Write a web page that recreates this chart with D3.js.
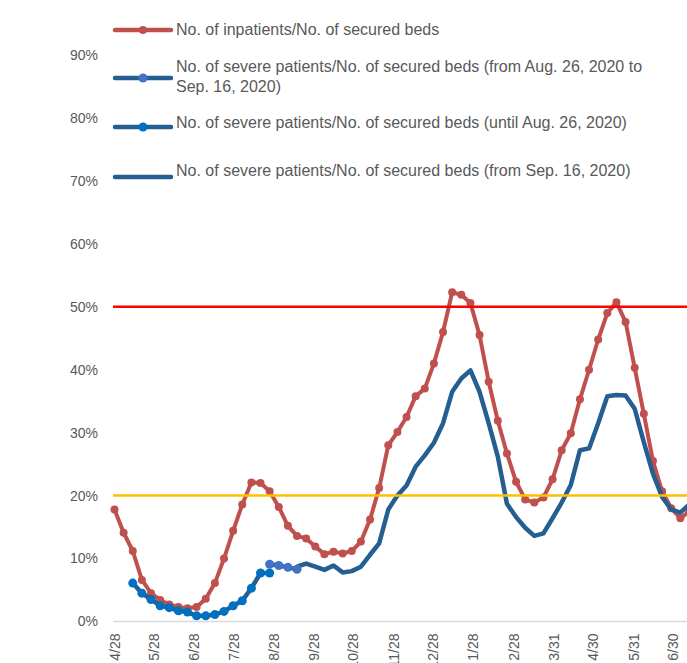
<!DOCTYPE html>
<html>
<head>
<meta charset="utf-8">
<script src="https://cdn.jsdelivr.net/npm/d3@7"></script>
<style>
  body { margin: 0; background: #fff; }
  svg { display: block; font-family: "Liberation Sans", Arial, sans-serif; }
</style>
</head>
<body>
<div id="chart"></div>
<script>
// Weekly dates (category of every point)
const dates = [
  "2020-04-28","2020-05-05","2020-05-12","2020-05-19","2020-05-26","2020-06-02","2020-06-09","2020-06-16",
  "2020-06-23","2020-06-30","2020-07-07","2020-07-14","2020-07-21","2020-07-28","2020-08-04","2020-08-11",
  "2020-08-18","2020-08-25","2020-09-01","2020-09-08","2020-09-15","2020-09-22","2020-09-29","2020-10-06",
  "2020-10-13","2020-10-20","2020-10-27","2020-11-03","2020-11-10","2020-11-17","2020-11-24","2020-12-01",
  "2020-12-08","2020-12-15","2020-12-22","2020-12-29","2021-01-05","2021-01-12","2021-01-19","2021-01-26",
  "2021-02-02","2021-02-09","2021-02-16","2021-02-23","2021-03-02","2021-03-09","2021-03-16","2021-03-23",
  "2021-03-30","2021-04-06","2021-04-13","2021-04-20","2021-04-27","2021-05-04","2021-05-11","2021-05-18",
  "2021-05-25","2021-06-01","2021-06-08","2021-06-15","2021-06-22","2021-06-29","2021-07-06","2021-07-13"
];

// No. of inpatients / No. of secured beds (%)
const inpatients = [
  17.8, 14.1, 11.2, 6.6, 4.5, 3.4, 2.7, 2.3, 2.1, 2.3, 3.6, 6.1, 10.0, 14.4, 18.6, 22.1,
  22.0, 20.7, 18.2, 15.2, 13.6, 13.2, 11.9, 10.7, 11.1, 10.8, 11.2, 12.7, 16.2, 21.2, 28.0, 30.1,
  32.5, 35.8, 37.0, 41.0, 46.0, 52.3, 51.9, 50.6, 45.5, 38.1, 31.9, 26.7, 22.2, 19.4, 18.9, 19.7,
  22.6, 27.2, 29.9, 35.3, 40.0, 44.8, 49.0, 50.7, 47.6, 40.3, 33.0, 25.5, 20.7, 18.0, 16.4, 17.5
];

// Severe patients / secured beds, until Aug. 26, 2020 (starts at index 2)
const severeEarlyStart = 2;
const severeEarly = [6.1, 4.5, 3.5, 2.5, 2.2, 1.7, 1.5, 0.9, 0.9, 1.1, 1.6, 2.5, 3.3, 5.3, 7.7, 7.7];

// Severe patients / secured beds, Aug. 26 to Sep. 16, 2020 (starts at index 17)
const severeMidStart = 17;
const severeMid = [9.1, 8.9, 8.6, 8.3];

// Severe patients / secured beds, from Sep. 16, 2020 (starts at index 20)
const severeLateStart = 20;
const severeLate = [
  8.7, 9.2, 8.7, 8.2, 8.9, 7.8, 8.0, 8.7, 10.6, 12.4, 17.8, 20.0, 21.6, 24.6, 26.4, 28.4,
  31.5, 36.5, 38.6, 39.9, 36.5, 31.5, 26.2, 18.7, 16.6, 14.9, 13.6, 14.0, 16.4, 18.9, 21.7, 27.2,
  27.5, 31.5, 35.8, 36.0, 35.9, 33.8, 28.5, 23.5, 19.8, 17.8, 17.3, 18.6
];

const yTicks = [0, 10, 20, 30, 40, 50, 60, 70, 80, 90];
const xTickDates = ["2020-04-28","2020-05-28","2020-06-28","2020-07-28","2020-08-28","2020-09-28","2020-10-28",
  "2020-11-28","2020-12-28","2021-01-28","2021-02-28","2021-03-31","2021-04-30","2021-05-31","2021-06-30"];
const thresholds = [50, 20];

const width = 687, height = 663;
const parse = d3.utcParse("%Y-%m-%d");
const fmt = d3.utcFormat("%-m/%-d");

const x = d3.scaleUtc()
    .domain([parse("2020-04-28"), parse("2021-06-30")])
    .range([114.5, 672.5]);
const y = d3.scaleLinear().domain([0, 90]).range([621.5, 55]);

const svg = d3.select("#chart").append("svg")
    .attr("width", width)
    .attr("height", height)
    .attr("viewBox", [0, 0, width, height]);

svg.append("rect").attr("width", width).attr("height", height).attr("fill", "#fff");

// y labels
svg.append("g")
    .attr("font-size", 14)
    .attr("fill", "#595959")
  .selectAll("text")
  .data(yTicks)
  .join("text")
    .attr("x", 98)
    .attr("y", d => y(d))
    .attr("dy", "0.35em")
    .attr("text-anchor", "end")
    .text(d => d + "%");

// x axis (rotated labels run past the bottom edge, as in the source)
const xAxis = svg.append("g")
    .attr("transform", `translate(0,${y(0)})`)
    .call(d3.axisBottom(x).tickValues(xTickDates.map(parse)).tickFormat(fmt).tickSize(0))
    .call(g => g.select(".domain").remove());
xAxis.append("line")
    .attr("x1", 113).attr("x2", width)
    .attr("stroke", "#d9d9d9").attr("stroke-width", 1.5);
xAxis.selectAll(".tick text")
    .attr("font-family", "Liberation Sans, Arial, sans-serif")
    .attr("font-size", 14)
    .attr("fill", "#595959")
    .attr("transform", "rotate(-90)")
    .attr("text-anchor", "end")
    .attr("x", -12)
    .attr("y", 0)
    .attr("dy", "0.35em");

const line = d3.line().x(d => x(d.date)).y(d => y(d.value));
const toPoints = (values, start) => values.map((v, i) => ({date: parse(dates[start + i]), value: v}));

const inpatientPts = toPoints(inpatients, 0);
const earlyPts = toPoints(severeEarly, severeEarlyStart);
const midPts = toPoints(severeMid, severeMidStart);
const latePts = toPoints(severeLate, severeLateStart);

// inpatients
svg.append("path")
    .datum(inpatientPts)
    .attr("fill", "none")
    .attr("stroke", "#c0504d")
    .attr("stroke-width", 4)
    .attr("stroke-linejoin", "round")
    .attr("d", line);
svg.append("g").attr("fill", "#c0504d")
  .selectAll("circle").data(inpatientPts).join("circle")
    .attr("cx", d => x(d.date)).attr("cy", d => y(d.value)).attr("r", 4);

// severe patients
for (const pts of [latePts, earlyPts, midPts]) {
  svg.append("path")
      .datum(pts)
      .attr("fill", "none")
      .attr("stroke", "#255e91")
      .attr("stroke-width", 4.5)
      .attr("stroke-linejoin", "round")
      .attr("d", line);
}
svg.append("g").attr("fill", "#0070c0")
  .selectAll("circle").data(earlyPts).join("circle")
    .attr("cx", d => x(d.date)).attr("cy", d => y(d.value)).attr("r", 4.5);
svg.append("g").attr("fill", "#4472c4")
  .selectAll("circle").data(midPts).join("circle")
    .attr("cx", d => x(d.date)).attr("cy", d => y(d.value)).attr("r", 4.5);

// threshold lines
svg.append("g")
  .selectAll("line").data(thresholds).join("line")
    .attr("x1", 113).attr("x2", width)
    .attr("y1", d => y(d)).attr("y2", d => y(d))
    .attr("stroke", d => d === 50 ? "#ff0000" : "#ffc000")
    .attr("stroke-width", 2.5);

// legend
const legend = [
  {lines: ["No. of inpatients/No. of secured beds"], color: "#c0504d", marker: "#c0504d", r: 4, ly: 30, ty: 29},
  {lines: ["No. of severe patients/No. of secured beds (from Aug. 26, 2020 to", "Sep. 16, 2020)"], color: "#255e91", marker: "#4472c4", r: 4.5, ly: 78, ty: 66},
  {lines: ["No. of severe patients/No. of secured beds (until Aug. 26, 2020)"], color: "#255e91", marker: "#0070c0", r: 4.5, ly: 127, ty: 122},
  {lines: ["No. of severe patients/No. of secured beds (from Sep. 16, 2020)"], color: "#255e91", marker: null, ly: 177, ty: 170}
];
const lg = svg.append("g");
for (const item of legend) {
  lg.append("line")
      .attr("x1", 115).attr("x2", 171)
      .attr("y1", item.ly).attr("y2", item.ly)
      .attr("stroke", item.color).attr("stroke-width", 4.5)
      .attr("stroke-linecap", "round");
  if (item.marker)
    lg.append("circle").attr("cx", 143).attr("cy", item.ly).attr("r", item.r).attr("fill", item.marker);
  lg.append("text")
      .attr("x", 176)
      .attr("y", item.ty)
      .attr("font-size", 16)
      .attr("fill", "#595959")
    .selectAll("tspan").data(item.lines).join("tspan")
      .attr("x", 176)
      .attr("dy", (d, i) => i === 0 ? "0.35em" : 20)
      .text(d => d);
}
</script>
</body>
</html>
